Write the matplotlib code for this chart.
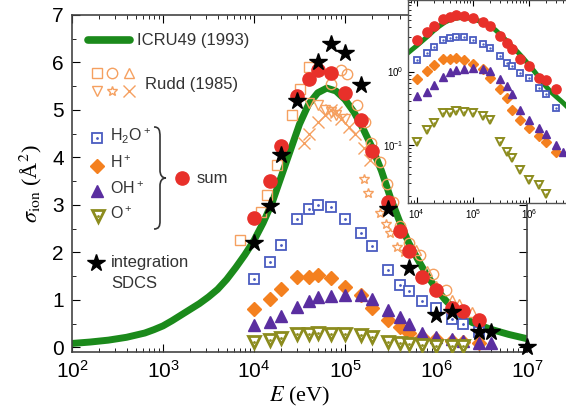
## Ionization cross sections of water by protons, with inset in log-log
import numpy as np
import matplotlib
matplotlib.use('Agg')
import matplotlib.pyplot as plt
from matplotlib.path import Path
from matplotlib.patches import PathPatch
from matplotlib.ticker import LogLocator, FixedLocator, FuncFormatter, MultipleLocator, NullFormatter

plt.rcParams['font.family'] = ['Liberation Sans', 'DejaVu Sans']

## ICRU49 (1993) curve
E_icru = [1e2, 10**2.2, 10**2.4, 10**2.6, 10**2.8, 10**2.9, 1e3, 10**3.1, 10**3.2, 10**3.3,
          10**3.4, 10**3.5, 10**3.6, 10**3.7, 10**3.8, 10**3.9, 1e4, 10**4.1, 10**4.2, 10**4.3,
          10**4.4, 10**4.5, 10**4.6, 10**4.7, 10**4.8, 10**4.9, 1e5, 10**5.1, 10**5.2,
          10**5.3, 10**5.4, 10**5.5, 10**5.6, 10**5.7, 10**5.8, 10**5.9, 1e6, 10**6.1,
          10**6.2, 10**6.3, 10**6.4, 10**6.6, 10**6.8, 1e7]
s_icru = [0.08, 0.11, 0.15, 0.21, 0.30, 0.37, 0.45, 0.56, 0.68, 0.80,
          0.92, 1.06, 1.22, 1.43, 1.68, 1.95, 2.25, 2.62, 3.05, 3.60,
          4.15, 4.70, 5.12, 5.36, 5.46, 5.40, 5.22, 4.95, 4.60,
          4.20, 3.72, 3.15, 2.65, 2.20, 1.85, 1.52, 1.24, 1.00,
          0.80, 0.63, 0.52, 0.38, 0.27, 0.18]

## this work: energy grid and cation channels
E_grid = [1e4, 1.5e4, 2e4, 3e4, 4e4, 5e4, 7e4, 1e5, 1.5e5, 2e5, 3e5, 4e5, 5e5, 7e5,
          1e6, 1.5e6, 2e6, 3e6, 4e6]
s_h2o = [1.43, 1.80, 2.15, 2.70, 2.91, 2.99, 2.96, 2.70, 2.40, 2.13, 1.62, 1.31, 1.18, 0.97,
         0.82, 0.60, 0.50, 0.32]
s_h = [0.80, 1.02, 1.22, 1.48, 1.48, 1.52, 1.45, 1.27, 1.10, 0.82, 0.57, 0.43, 0.30, 0.22,
       0.17, 0.13, 0.11, 0.08]
s_oh = [0.46, 0.53, 0.65, 0.85, 0.98, 1.06, 1.08, 1.11, 1.10, 1.01, 0.78, 0.64, 0.50, 0.30,
        0.22, 0.17, 0.14, 0.10, 0.08]
s_o = [0.11, 0.16, 0.20, 0.27, 0.27, 0.29, 0.28, 0.27, 0.25, 0.22, 0.11, 0.08, 0.065, 0.045,
       0.033, 0.028, 0.021]
s_sum = [2.73, 3.50, 4.23, 5.30, 5.65, 5.84, 5.77, 5.35, 4.79, 4.13, 3.07, 2.45, 2.03, 1.49,
         1.20, 0.82, 0.76, 0.57]

## integration of SDCS
E_sdcs = [1e4, 1.5e4, 2e4, 3e4, 5e4, 7e4, 1e5, 1.5e5, 3e5, 5e5, 1e6, 1.5e6, 3e6, 4e6, 1e7]
s_sdcs = [2.20, 2.97, 4.06, 5.19, 6.01, 6.39, 6.19, 5.53, 2.91, 1.66, 0.68, 0.74, 0.33, 0.33, 0.01]

## Rudd (1985)
E_rsq = [7e3, 1.2e4, 1.4e4, 1.8e4, 2.6e4, 3.2e4, 4e4]
s_rsq = [2.25, 2.85, 3.20, 3.85, 4.90, 5.45, 5.90]
E_rci = [7e4, 9e4, 1.05e5, 1.35e5, 1.65e5, 1.95e5, 2.4e5, 2.9e5, 3.4e5, 4e5, 5e5, 6.6e5, 9.3e5, 1.3e6]
s_rci = [5.55, 5.85, 5.75, 5.10, 4.75, 4.30, 3.90, 3.45, 3.05, 2.55, 2.20, 1.95, 1.55, 1.20]
E_rtu = [6e5, 8e5, 1e6, 1.5e6, 1.8e6, 2.5e6]
s_rtu = [2.05, 1.60, 1.30, 1.00, 0.92, 0.74]
E_rtd = [4e4, 5e4, 6e4, 7e4, 8e4, 1e5]
s_rtd = [5.15, 5.10, 5.00, 4.95, 4.90, 4.80]
E_rst = [1.6e5, 1.8e5, 2.4e5, 2.8e5, 3.1e5, 3.7e5, 4.4e5]
s_rst = [3.55, 3.24, 2.83, 2.60, 2.40, 2.12, 2.00]
E_rx = [3.5e4, 4e4, 5e4, 6e4, 7e4, 8e4, 9e4, 1.1e5, 1.3e5, 1.6e5, 1.9e5]
s_rx = [4.30, 4.50, 4.75, 4.90, 5.00, 4.95, 4.80, 4.65, 4.50, 4.20, 3.95]

## colours
c_green = '#1b8a1b'
c_red = '#e8302a'
c_blue = '#4a5cc0'
c_orange = '#f4801f'
c_purple = '#5a2ea0'
c_olive = '#8c8c1e'
c_rudd = '#f5a060'

fig = plt.figure(figsize=(5.66, 4.16), dpi=100)
ax = fig.add_axes([72/566, 64/416, 455/566, 337/416])


def comp_plots(a, ms_scale=1.0, lw_line=5.0):
    a.plot(E_icru, s_icru, color=c_green, lw=lw_line, zorder=2, solid_joinstyle='round')
    a.plot(E_grid[:len(s_h2o)], s_h2o, ls='none', marker='s', ms=6.5*ms_scale, mfc='white',
           mec=c_blue, mew=1.3, zorder=3)
    a.plot(E_grid[:len(s_h2o)], s_h2o, ls='none', marker='.', ms=2.0*ms_scale, color=c_blue, zorder=3)
    a.plot(E_grid[:len(s_h)], s_h, ls='none', marker='D', ms=7.5*ms_scale, color=c_orange,
           mec=c_orange, zorder=3)
    a.plot(E_grid[:len(s_oh)], s_oh, ls='none', marker='^', ms=8.5*ms_scale, color=c_purple,
           mec=c_purple, zorder=3)
    a.plot(E_grid[:len(s_o)], s_o, ls='none', marker='v', ms=9*ms_scale, mfc='white',
           mec=c_olive, mew=2.0*ms_scale, zorder=3)
    a.plot(E_grid[:len(s_o)], s_o, ls='none', marker='.', ms=2.0*ms_scale, color=c_olive, zorder=3)
    a.plot(E_grid[:len(s_sum)], s_sum, ls='none', marker='o', ms=9.5*ms_scale, color=c_red,
           mec=c_red, zorder=4)


comp_plots(ax)
rudd_kw = dict(ls='none', mfc='none', mec=c_rudd, mew=1.0, ms=7.5, zorder=3)
ax.plot(E_rsq, s_rsq, marker='s', **rudd_kw)
ax.plot(E_rci, s_rci, marker='o', **rudd_kw)
ax.plot(E_rtu, s_rtu, marker='^', **rudd_kw)
ax.plot(E_rtd, s_rtd, marker='v', **rudd_kw)
ax.plot(E_rst, s_rst, marker='*', **rudd_kw)
ax.plot(E_rx, s_rx, marker='x', ls='none', color=c_rudd, mew=1.0, ms=9, zorder=3)
ax.plot(E_sdcs, s_sdcs, ls='none', marker='*', ms=13, color='black', zorder=5, clip_on=False)

ax.set_xscale('log')
ax.set_xlim(1e2, 1e7)
ax.set_ylim(-0.1, 7)
pow_fmt = FuncFormatter(lambda v, p: r'$\mathregular{10^{%d}}$' % round(np.log10(v)))
ax.xaxis.set_major_locator(LogLocator(base=10, numticks=10))
ax.xaxis.set_minor_locator(LogLocator(base=10, subs=np.arange(2, 10), numticks=20))
ax.xaxis.set_major_formatter(pow_fmt)
ax.xaxis.set_minor_formatter(NullFormatter())
ax.yaxis.set_major_locator(MultipleLocator(1))
ax.yaxis.set_minor_locator(MultipleLocator(0.5))
ax.tick_params(which='both', direction='in', top=True, right=True, labelsize=15, pad=6)
ax.tick_params(which='major', length=6)
ax.tick_params(which='minor', length=3)
for sp in ax.spines.values():
    sp.set_color('#444444')
    sp.set_linewidth(1.2)

ax.set_xlabel(r'$E$ (eV)', fontsize=16, family='Liberation Serif', math_fontfamily='stix', labelpad=2)
ax.set_ylabel(r'$\sigma_{\rm ion}$ (Å$^2$)', fontsize=16, family='Liberation Serif',
              math_fontfamily='stix', labelpad=6)


## legend, placed by hand in pixel units of the picture
def px(x, y):
    return ((x - 72) / 455, (352 - y) / 337)


T = ax.transAxes
lx, ly = px(88, 40), px(130, 40)
ax.plot([lx[0], ly[0]], [lx[1], ly[1]], color=c_green, lw=5.5, transform=T, solid_capstyle='round')
ax.text(*px(137, 40), 'ICRU49 (1993)', transform=T, fontsize=12, va='center', color='#333333')

for (xx, yy), mk in zip([(97, 73), (112, 73), (129, 73), (97, 91), (112, 91), (129, 91)],
                        ['s', 'o', '^', 'v', '*', 'x']):
    p = px(xx, yy)
    if mk == 'x':
        ax.plot(p[0], p[1], marker='x', color=c_rudd, mew=1.0, ms=9, transform=T)
    else:
        ax.plot(p[0], p[1], marker=mk, mfc='none', mec=c_rudd, mew=1.0, ms=7.5, transform=T)
ax.text(*px(145, 84), 'Rudd (1985)', transform=T, fontsize=12, va='center', color='#333333')

p = px(97, 138)
ax.plot(p[0], p[1], marker='s', ms=6.5, mfc='white', mec=c_blue, mew=1.3, transform=T)
ax.plot(p[0], p[1], marker='.', ms=2, color=c_blue, transform=T)
p = px(97, 166)
ax.plot(p[0], p[1], marker='D', ms=7.5, color=c_orange, transform=T)
p = px(97, 191)
ax.plot(p[0], p[1], marker='^', ms=8.5, color=c_purple, transform=T)
p = px(98, 216)
ax.plot(p[0], p[1], marker='v', ms=9, mfc='white', mec=c_olive, mew=2.0, transform=T)
ax.plot(p[0], p[1], marker='.', ms=2, color=c_olive, transform=T)
for yy, lab in zip([136, 163, 189, 214],
                   [r'$\mathregular{H_2O^+}$', r'$\mathregular{H^+}$', r'$\mathregular{OH^+}$',
                    r'$\mathregular{O^+}$']):
    ax.text(*px(110, yy), lab, transform=T, fontsize=11.5, va='center', color='#333333')

brace = [(154, 127), (159, 127), (160, 130), (160, 137), (160, 170),
         (160, 175), (162, 178), (166, 178), (162, 178), (160, 181), (160, 186),
         (160, 221), (160, 226), (159, 229), (154, 229)]
codes = [Path.MOVETO, Path.CURVE4, Path.CURVE4, Path.CURVE4, Path.LINETO,
         Path.CURVE4, Path.CURVE4, Path.CURVE4, Path.CURVE4, Path.CURVE4, Path.CURVE4,
         Path.LINETO, Path.CURVE4, Path.CURVE4, Path.CURVE4]
ax.add_patch(PathPatch(Path([px(*b) for b in brace], codes), fill=False, lw=1.2,
                       ec='#333333', transform=T))

p = px(182, 178)
ax.plot(p[0], p[1], marker='o', ms=9.5, color=c_red, transform=T)
ax.text(*px(197, 178), 'sum', transform=T, fontsize=12, va='center', color='#333333')

p = px(96, 263)
ax.plot(p[0], p[1], marker='*', ms=13, color='black', transform=T)
ax.text(*px(111, 263), 'integration', transform=T, fontsize=12, va='center', color='#333333')
ax.text(*px(111, 283), 'SDCS', transform=T, fontsize=12, va='center', color='#333333')

## inset, log-log
ins = fig.add_axes([408/566, 213/416, 177/566, 203/416])
ins.set_facecolor('white')
comp_plots(ins, ms_scale=0.7, lw_line=3.5)
ins.set_xscale('log')
ins.set_yscale('log')
ins.set_xlim(7e3, 1e7)
ins.set_ylim(0.016, 9.5)
ins.xaxis.set_major_locator(FixedLocator([1e4, 1e5, 1e6]))
ins.xaxis.set_major_formatter(pow_fmt)
ins.yaxis.set_major_locator(FixedLocator([1e-1, 1e0]))
ins.yaxis.set_major_formatter(pow_fmt)
ins.xaxis.set_minor_formatter(NullFormatter())
ins.yaxis.set_minor_formatter(NullFormatter())
ins.tick_params(which='both', direction='in', top=True, right=True, labelsize=7, pad=3)
ins.tick_params(which='major', length=4)
ins.tick_params(which='minor', length=2)
for sp in ins.spines.values():
    sp.set_color('#555555')
    sp.set_linewidth(1.0)

fig.savefig('out.png', dpi=100)
